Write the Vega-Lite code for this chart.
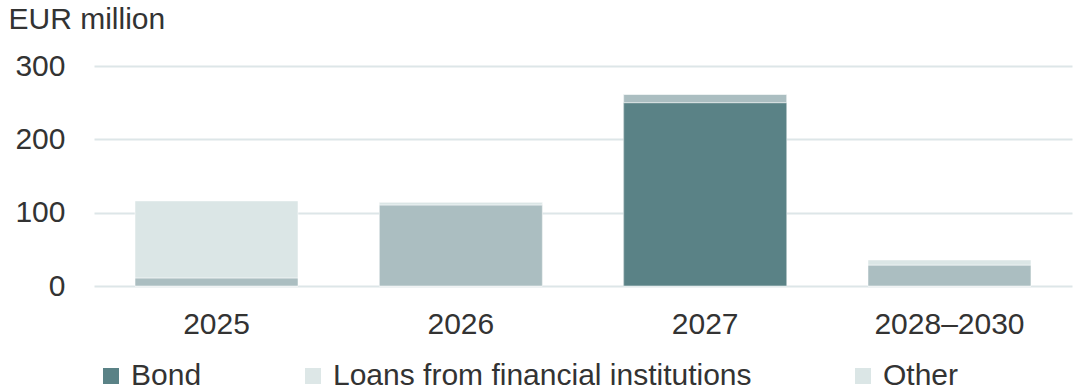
{
  "$schema": "https://vega.github.io/schema/vega-lite/v6.json",
  "width": 978,
  "height": 220,
  "autosize": "none",
  "padding": {"left": 94, "top": 66, "right": 1, "bottom": 104},
  "background": "white",
  "config": {
    "view": {"stroke": null},
    "font": "Liberation Sans",
    "axis": {"labelFont": "Liberation Sans", "titleFont": "Liberation Sans"},
    "legend": {"labelFont": "Liberation Sans"}
  },
  "data": {
    "values": [
      {"period": "2025", "type": "Bond", "value": 0},
      {"period": "2025", "type": "Loans from financial institutions", "value": 11},
      {"period": "2025", "type": "Other", "value": 105},
      {"period": "2026", "type": "Bond", "value": 0},
      {"period": "2026", "type": "Loans from financial institutions", "value": 110.5},
      {"period": "2026", "type": "Other", "value": 3.5},
      {"period": "2027", "type": "Bond", "value": 250},
      {"period": "2027", "type": "Loans from financial institutions", "value": 11.5},
      {"period": "2027", "type": "Other", "value": 0},
      {"period": "2028–2030", "type": "Bond", "value": 0},
      {"period": "2028–2030", "type": "Loans from financial institutions", "value": 28.5},
      {"period": "2028–2030", "type": "Other", "value": 7}
    ]
  },
  "encoding": {
    "x": {
      "field": "period",
      "type": "nominal",
      "sort": null,
      "scale": {"paddingInner": 0.333, "paddingOuter": 0.168},
      "axis": {
        "title": null,
        "labelAngle": 0,
        "labelFontSize": 30,
        "labelColor": "#333333",
        "labelPadding": 23,
        "ticks": false,
        "domain": false,
        "grid": false
      }
    },
    "y": {
      "field": "value",
      "type": "quantitative",
      "stack": "zero",
      "scale": {"domain": [0, 300], "nice": false},
      "axis": {
        "values": [0, 100, 200, 300],
        "title": "EUR million",
        "titleAngle": 0,
        "titleAlign": "left",
        "titleBaseline": "alphabetic",
        "titleX": -86,
        "titleY": -38,
        "titleFontSize": 30,
        "titleFontWeight": "normal",
        "titleColor": "#333333",
        "labelFontSize": 30,
        "labelColor": "#333333",
        "labelPadding": 29,
        "ticks": false,
        "domain": false,
        "grid": true,
        "gridColor": "#dde6e8",
        "gridWidth": 2
      }
    },
    "order": {"field": "type", "sort": "ascending"}
  },
  "layer": [
    {
      "mark": {"type": "bar"},
      "encoding": {
        "fill": {
          "field": "type",
          "type": "nominal",
          "scale": {
            "domain": ["Bond", "Loans from financial institutions", "Other"],
            "range": ["#5a8286", "#dde7e7", "#dbe6e6"]
          },
          "legend": {
            "title": null,
            "orient": "none",
            "direction": "horizontal",
            "legendX": 2,
            "legendY": 295,
            "padding": 0,
            "symbolType": "square",
            "symbolSize": 256,
            "symbolStrokeWidth": 0,
            "labelFontSize": 30,
            "labelColor": "#333333",
            "labelOffset": 5,
            "labelLimit": 0,
            "columnPadding": 96
          }
        }
      }
    },
    {
      "mark": {"type": "bar", "stroke": "white", "strokeWidth": 0.5},
      "encoding": {
        "color": {
          "field": "type",
          "type": "nominal",
          "scale": {
            "domain": ["Bond", "Loans from financial institutions", "Other"],
            "range": ["#5a8286", "#abbec1", "#dbe6e6"]
          },
          "legend": null
        }
      }
    }
  ]
}
